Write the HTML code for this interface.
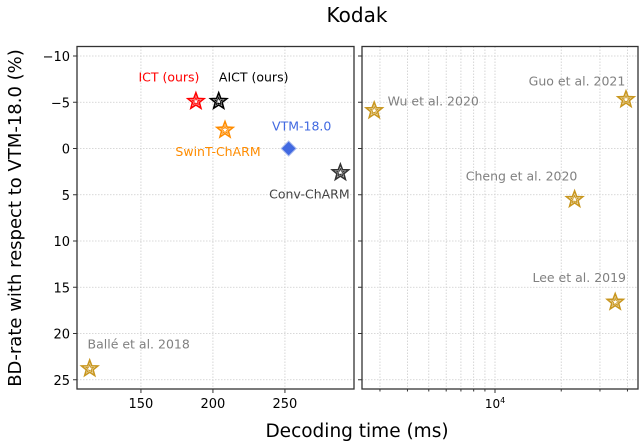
<!DOCTYPE html>
<html><head><meta charset="utf-8"><style>
html,body{margin:0;padding:0;background:#fff;}
svg{display:block;font-family:"DejaVu Sans","Liberation Sans",sans-serif;}
</style></head><body>
<svg id="chart" width="640" height="441">
<text x="357" y="22" text-anchor="middle" font-size="20">Kodak</text>
<text x="357" y="437" text-anchor="middle" font-size="18.5">Decoding time (ms)</text>
<text transform="translate(21,218) rotate(-90)" text-anchor="middle" font-size="18">BD-rate with respect to VTM-18.0 (%)</text>
<g id="left"></g>
<g id="right"></g>
</svg>
<script>
const yTicks = [-10, -5, 0, 5, 10, 15, 20, 25];
const leftXTicks = [150, 200, 250];
const leftNames = ["ICT (ours)", "AICT (ours)", "SwinT-ChARM", "VTM-18.0", "Conv-ChARM", "Ballé et al. 2018"];
const leftTimes = [188.2, 204, 208.4, 252.6, 288.5, 114.4];
const leftRates = [-5.1, -5.1, -2.0, 0, 2.6, 23.8];
const rightNames = ["Wu et al. 2020", "Guo et al. 2021", "Cheng et al. 2020", "Lee et al. 2019"];
const rightTimes = [2825, 39400, 23000, 35200];
const rightRates = [-4.1, -5.3, 5.5, 16.6];

const NS = "http://www.w3.org/2000/svg";
const top_ = 46.5, bot = 389;
const yS = v => 56 + (v + 10) * 9.25;
const lxS = v => 77 + (v - 105.6) * 1.44;
const rxS = v => 495 + (Math.log10(v) - 4) * 220;
function mk(tag, attrs, parent) { const e = document.createElementNS(NS, tag); for (const k in attrs) e.setAttribute(k, attrs[k]); parent.appendChild(e); return e; }
function starPath(cx, cy, R) {
  const r = R * 0.42; let d = "";
  for (let i = 0; i < 10; i++) { const a = -Math.PI / 2 + i * Math.PI / 5; const rr = i % 2 ? r : R; d += (i ? "L" : "M") + (cx + rr * Math.cos(a)).toFixed(1) + "," + (cy + rr * Math.sin(a)).toFixed(1); }
  return d + "Z";
}
function drawStar(g, cx, cy, col, name) {
  const s = mk("path", { d: starPath(cx, cy, 8.5), fill: "#fff", stroke: col, "stroke-width": 1.6 }, g);
  
  
  mk("path", { d: starPath(cx, cy, 4), fill: "none", stroke: col, "stroke-width": 0.9 }, g);
}
function frame(g, x0, x1) {
  yTicks.forEach(t => {
    const y = yS(t);
    mk("line", { x1: x0, x2: x1, y1: y, y2: y, stroke: "#ccc", "stroke-width": 0.8, "stroke-dasharray": "1.5,1.5" }, g);
    mk("line", { x1: x0 - 4, x2: x0, y1: y, y2: y, stroke: "#333" }, g);
  });
}
const L = document.getElementById("left");
frame(L, 77, 354);
yTicks.forEach(t => {
  const tx = mk("text", { x: 70, y: yS(t) + 5, "text-anchor": "end", "font-size": 13 }, L);
  tx.textContent = t < 0 ? "\u2212" + (-t) : String(t);
  
  
});
leftXTicks.forEach(t => {
  const x = lxS(t);
  mk("line", { x1: x, x2: x, y1: top_, y2: bot, stroke: "#ccc", "stroke-width": 0.8, "stroke-dasharray": "1.5,1.5" }, L);
  mk("line", { x1: x, x2: x, y1: bot, y2: bot + 4, stroke: "#333" }, L);
  const tx = mk("text", { x: x, y: bot + 19, "text-anchor": "middle", "font-size": 13 }, L);
  tx.textContent = t;
  
  
});
mk("rect", { x: 77, y: top_, width: 277, height: bot - top_, fill: "none", stroke: "#333", "stroke-width": 1.3 }, L);
const lCols = ["#ff0000", "#000000", "#ff8c00", "#4169e1", "#333333", "#b8860b"];
const lText = ["#ff0000", "#000000", "#ff8c00", "#4169e1", "#444444", "#808080"];
const lOff = [[-27, -20], [35, -20], [-7, 26], [13, -18], [-31, 26], [49, -20]];
leftNames.forEach((n, i) => {
  const x = lxS(leftTimes[i]), y = yS(leftRates[i]);
  if (i === 3) {
    const d = mk("path", { d: `M${x},${y-7.5}L${x+7.5},${y}L${x},${y+7.5}L${x-7.5},${y}Z`, fill: "#4169e1", stroke: "#aabbee", "stroke-width": 1 }, L);
    
    
  } else {
    drawStar(L, x, y, i === 5 ? "#c8961e" : lCols[i], "point-" + i);
  }
  const t = mk("text", { x: x + lOff[i][0], y: y + lOff[i][1], "text-anchor": "middle", "font-size": 12.5, fill: lText[i] }, L);
  t.textContent = n;
  
  
});
const R = document.getElementById("right");
frame(R, 362, 638);
[3000,4000,5000,6000,7000,8000,9000,10000,20000,30000,40000].forEach(t => {
  const x = rxS(t);
  mk("line", { x1: x, x2: x, y1: top_, y2: bot, stroke: "#ccc", "stroke-width": 0.8, "stroke-dasharray": "1.5,1.5" }, R);
  mk("line", { x1: x, x2: x, y1: bot, y2: bot + (t === 10000 ? 4 : 2.5), stroke: "#333" }, R);
});
const rt = mk("text", { x: rxS(10000), y: bot + 19, "text-anchor": "middle", "font-size": 12 }, R);
rt.innerHTML = '10<tspan dy="-5" font-size="8">4</tspan>';


mk("rect", { x: 362, y: top_, width: 276, height: bot - top_, fill: "none", stroke: "#333", "stroke-width": 1.3 }, R);
const rOff = [[59, -5], [-49, -14], [-53, -19], [-36, -20]];
rightNames.forEach((n, i) => {
  const x = rxS(rightTimes[i]), y = yS(rightRates[i]);
  drawStar(R, x, y, "#c8961e", "point-right-" + i);
  const t = mk("text", { x: x + rOff[i][0], y: y + rOff[i][1], "text-anchor": "middle", "font-size": 12.5, fill: "#808080" }, R);
  t.textContent = n;
  
  
});
</script>
</body></html>
